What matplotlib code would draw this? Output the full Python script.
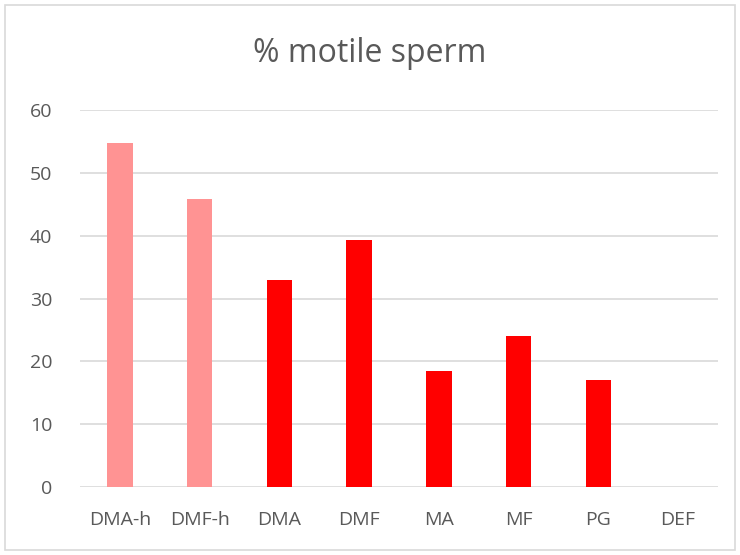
import matplotlib
matplotlib.use("Agg")
import matplotlib.pyplot as plt
from matplotlib.patches import Rectangle

categories = ["DMA-h", "DMF-h", "DMA", "DMF", "MA", "MF", "PG", "DEF"]
values = [54.8, 45.9, 33.0, 39.3, 18.4, 24.1, 17.1, 0]
colors = ["#FF9393", "#FF9393", "#FF0000", "#FF0000", "#FF0000", "#FF0000", "#FF0000", "#FF0000"]
yticks = [0, 10, 20, 30, 40, 50, 60]

plt.rcParams['font.family'] = ['Open Sans', 'DejaVu Sans']

fig = plt.figure(figsize=(7.4, 5.55), dpi=100)
ax = fig.add_axes([80/740, 1-487/555, (718-80)/740, (487-110)/555])

x = list(range(len(categories)))
ax.bar(x, values, width=0.32, color=colors, zorder=3)
ax.set_xlim(-0.5, len(categories)-0.5)
ax.set_ylim(0, 60)
ax.set_yticks(yticks)
ax.set_xticks(x)
ax.set_xticklabels(categories)
ax.grid(axis='y', color='#D9D9D9', linewidth=1.2, zorder=0)
for s in ax.spines.values():
    s.set_visible(False)
ax.tick_params(axis='both', length=0, labelsize=14, colors='#595959')
ax.tick_params(axis='x', pad=17)
ax.tick_params(axis='y', pad=20)

fig.text(0.5, 1-54/555, "% motile sperm", ha='center', va='center', fontsize=23, color='#595959')

fig.patches.append(Rectangle((5/740, 1-550/555), 730/740, 545/555, transform=fig.transFigure,
                             fill=False, edgecolor='#D9D9D9', linewidth=1.2))

fig.savefig("out.png", dpi=100)
